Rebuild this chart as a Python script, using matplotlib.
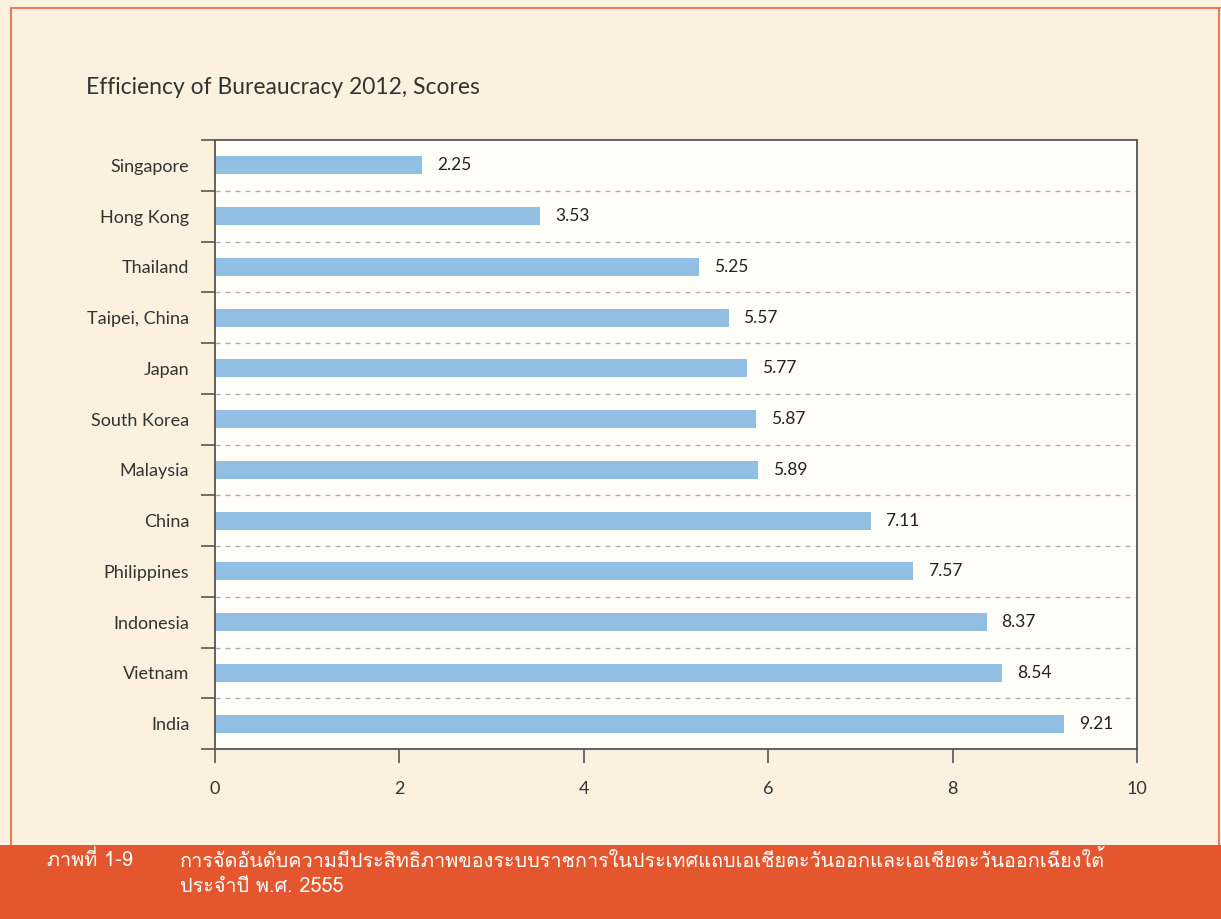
import matplotlib
matplotlib.use("Agg")
import matplotlib.pyplot as plt
from matplotlib import font_manager
from matplotlib.ft2font import FT2Font
from matplotlib.patches import Rectangle

countries = ["Singapore", "Hong Kong", "Thailand", "Taipei, China", "Japan",
             "South Korea", "Malaysia", "China", "Philippines", "Indonesia",
             "Vietnam", "India"]
scores = [2.25, 3.53, 5.25, 5.57, 5.77, 5.87, 5.89, 7.11, 7.57, 8.37, 8.54, 9.21]
score_labels = ["2.25", "3.53", "5.25", "5.57", "5.77", "5.87", "5.89", "7.11",
                "7.57", "8.37", "8.54", "9.21"]
x_ticks = [0, 2, 4, 6, 8, 10]
title = "Efficiency of Bureaucracy 2012, Scores"
caption_label = "ภาพที่ 1-9"
caption_line1 = "การจัดอันดับความมีประสิทธิภาพของระบบราชการในประเทศแถบเอเชียตะวันออกและเอเชียตะวันออกเฉียงใต้"
caption_line2 = "ประจำปี พ.ศ. 2555"

# find a font with Thai glyphs
thai_family = None
for f in font_manager.fontManager.ttflist:
    try:
        ft = FT2Font(f.fname)
        if ft.get_char_index(ord("ก")) and ft.get_char_index(ord("ภ")):
            thai_family = f.name
            break
    except Exception:
        pass
thai_fams = ([thai_family] if thai_family else []) + ["DejaVu Sans"]

main_font = ["Lato", "DejaVu Sans"]
plt.rcParams["font.family"] = main_font

W, H = 1221, 919
fig = plt.figure(figsize=(W / 100, H / 100), dpi=100)
bg = "#FCF1DF"
fig.patch.set_facecolor(bg)

border = "#EE7A5A"
# page border lines and caption bar
fig.add_artist(Rectangle((10 / W, 0), 2 / W, 1 - 7 / H, transform=fig.transFigure,
                         color=border, lw=0))
fig.add_artist(Rectangle((10 / W, 1 - 9 / H), 1 - 10 / W, 2 / H, transform=fig.transFigure,
                         color=border, lw=0))
fig.add_artist(Rectangle((1218 / W, 0), 2 / W, 1 - 7 / H, transform=fig.transFigure,
                         color=border, lw=0))
fig.add_artist(Rectangle((0, 0), 1, (H - 845) / H, transform=fig.transFigure,
                         color="#E4572E", lw=0))

# axes: x 215..1137, y 140..749
ax = fig.add_axes([215 / W, 1 - 749 / H, (1137 - 215) / W, (749 - 140) / H])
ax.set_facecolor("#FFFEF9")
n = len(countries)
ypos = list(range(n))
ax.barh(ypos, scores, height=0.35, color="#90BFE3", zorder=2)
ax.set_xlim(0, 10)
ax.set_ylim(n - 0.5, -0.5)

# category boundary ticks and dashed grid
bounds = [i - 0.5 for i in range(n + 1)]
ax.set_yticks(bounds)
ax.set_yticklabels([])
ax.set_yticks(ypos, minor=True)
ax.set_yticklabels(countries, minor=True, fontsize=13, color="#333333")
ax.tick_params(axis="y", which="major", length=10, width=1.2, color="#555555", direction="out")
ax.tick_params(axis="y", which="minor", length=0, pad=18.5)
for b in bounds[1:-1]:
    ax.axhline(b, color="#AAAAAA", lw=0.9, ls=(0, (4, 4)), zorder=1)

ax.set_xticks(x_ticks)
ax.set_xticklabels([str(t) for t in x_ticks], fontsize=13, color="#333333")
ax.tick_params(axis="x", length=10, width=1.2, color="#555555", direction="out", pad=13)

for s in ax.spines.values():
    s.set_color("#555555")
    s.set_linewidth(1.3)

for y, v, lab in zip(ypos, scores, score_labels):
    ax.text(v + 0.16, y, lab, va="center", ha="left", fontsize=12.5, color="#222222")

fig.text(86 / W, 1 - 88 / H, title, fontsize=16.5, color="#333333", va="center", ha="left")

fig.text(47 / W, 1 - 860 / H, caption_label, fontsize=14.3, color="white",
         va="center", ha="left", family=thai_fams)
fig.text(180 / W, 1 - 860 / H, caption_line1, fontsize=14.3, color="white",
         va="center", ha="left", family=thai_fams)
fig.text(180 / W, 1 - 887 / H, caption_line2, fontsize=14.3, color="white",
         va="center", ha="left", family=thai_fams)

fig.savefig("out.png", dpi=100, facecolor=bg)
